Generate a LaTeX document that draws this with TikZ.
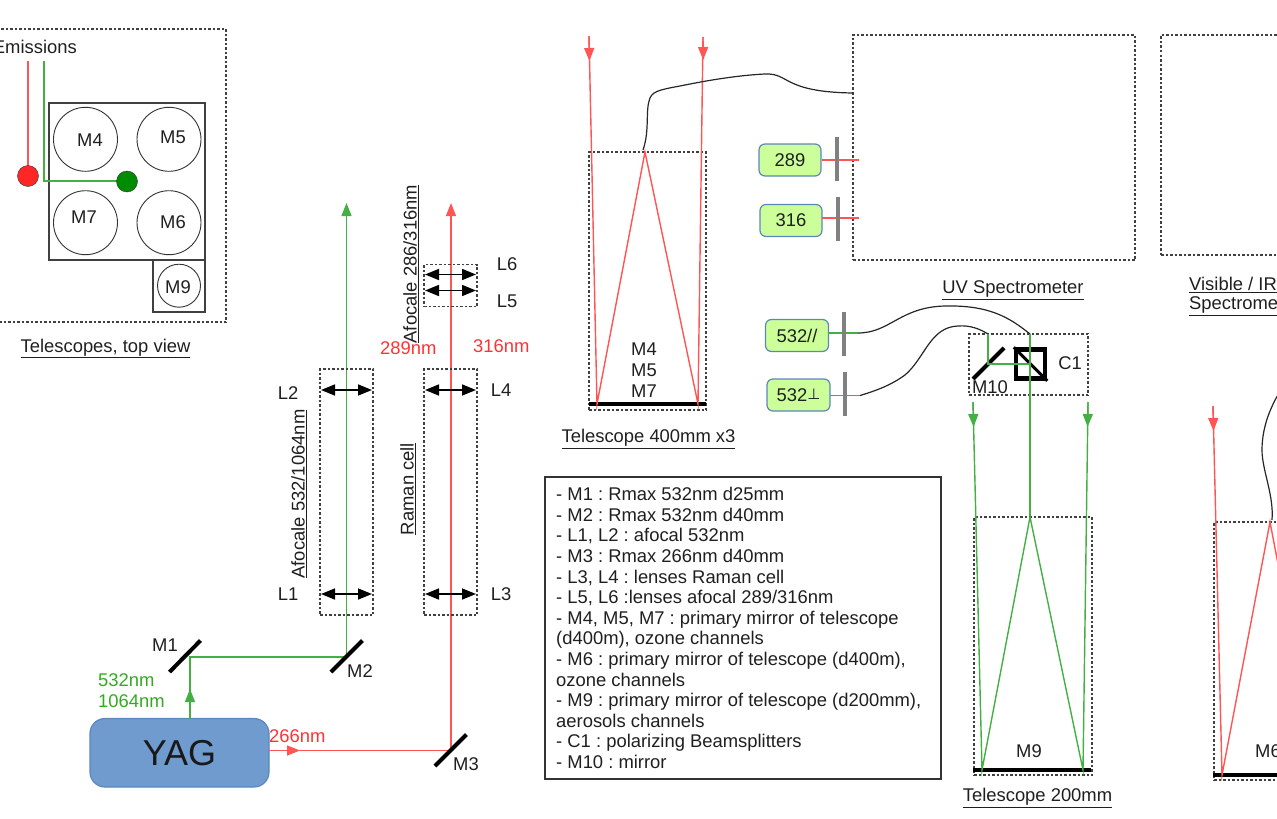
\documentclass[tikz,border=0pt]{standalone}
\usepackage{fontspec}
\setmainfont{Liberation Sans}
\newfontfamily\djv{DejaVu Sans}
\usetikzlibrary{arrows.meta}
\definecolor{rbeam}{HTML}{FF5555}
\definecolor{gbeam}{HTML}{44B044}
\definecolor{rtxt}{HTML}{FF3333}
\definecolor{gtxt}{HTML}{33AA22}
\definecolor{yagfill}{HTML}{6F9BCF}
\definecolor{yagline}{HTML}{5C87BC}
\definecolor{chfill}{HTML}{CCFF99}
\frenchspacing
\tikzset{
  lbl/.style={inner sep=0pt,font=\fontsize{18.4}{20}\selectfont,text=black!88},
  rlbl/.style={lbl,text=rtxt},
  glbl/.style={lbl,text=gtxt},
  dashbox/.style={draw=black!75,line width=1.3pt,dash pattern=on 2.5pt off 2pt},
  solidbox/.style={draw=black!75,line width=1.2pt},
  circ/.style={draw=black!80,line width=.9pt,circle,minimum size=#1,inner sep=0pt},
  redray/.style={draw=rbeam,line width=1.4pt},
  greenray/.style={draw=gbeam,line width=1.4pt},
  redtip/.style={redray,-{Triangle[length=13pt,width=10pt]}},
  greentip/.style={greenray,-{Triangle[length=13pt,width=10pt]}},
  mirror/.style={draw=black,line width=4pt},
  lens/.style={draw=black,line width=1.6pt,{Triangle[length=14pt,width=11pt]}-{Triangle[length=14pt,width=11pt]}},
  fibre/.style={draw=black!85,line width=1.2pt},
  bar/.style={draw=black!50,line width=4.5pt},
  chan/.style={draw=yagline,fill=chfill,line width=1.2pt,rounded corners=6pt,minimum width=#1,minimum height=32pt,inner sep=0pt,font=\fontsize{18.4}{20}\selectfont,text=black!88},
}
\begin{document}
\begin{tikzpicture}[x=1pt,y=-1pt]
\useasboundingbox (0,0) rectangle (1277,819);
\clip (0,0) rectangle (1277,819);

% ---------- top view
\node[dashbox,minimum width=236pt,minimum height=293pt,inner sep=0pt] (topview) at (108,175.5) {};
\node[solidbox,minimum width=156pt,minimum height=157pt,inner sep=0pt] (square) at (127,181.5) {};
\node[solidbox,minimum width=52pt,minimum height=52pt,inner sep=0pt] (m9box) at (179,286) {};
\node[circ=64pt] (c4) at (85.5,139.3) {};
\node[circ=64pt] (c5) at (169,139.3) {};
\node[circ=64pt] (c7) at (85.5,222.7) {};
\node[circ=64pt] (c6) at (169,222.7) {};
\node[circ=43pt] (c9) at (179,285.7) {};
\node[lbl] (t4) at (90,140) {M4};
\node[lbl] (t5) at (173,137) {M5};
\node[lbl] (t7) at (84,217) {M7};
\node[lbl] (t6) at (173,222) {M6};
\node[lbl] (t9) at (178,287) {M9};
\node[lbl,anchor=east] (emis) at (77,46.5) {Emissions};
\node[lbl] (tvcap) at (105.5,348.5) {\underline{Telescopes, top view}};
\coordinate (rs) at (28,61);
\coordinate (gs) at (44,61);
\coordinate (gk) at (44,181);
\coordinate (gd) at (127,181);
\draw[redray] (rs) -- (28,176);
\draw[greenray] (gs) -- (gk) -- (gd);
\node[circle,draw=black!80,fill=red!85!white,minimum size=21pt,inner sep=0pt] (rdot) at (28,176) {};
\node[circle,draw=black!80,fill=green!55!black,minimum size=21pt,inner sep=0pt] (gdot) at (127,181.5) {};

% ---------- YAG and steering
\node[draw=yagline,fill=yagfill,line width=1.2pt,rounded corners=15pt,minimum width=179pt,minimum height=68.5pt,inner sep=0pt,font=\fontsize{36}{40}\selectfont,text=black!90] (yag) at (179.5,752.75) {YAG};
\coordinate (m1a) at (169.5,672); \coordinate (m1b) at (200.5,640.5);
\coordinate (m2a) at (331,672);   \coordinate (m2b) at (362.5,640.5);
\coordinate (m3a) at (435,766);   \coordinate (m3b) at (466.5,734.5);
\coordinate (ystartg) at (190,718.5);
\coordinate (g1) at (190,657);
\coordinate (g2) at (346.5,657);
\coordinate (gtop) at (346.5,203);
\coordinate (ystartr) at (269,750.5);
\coordinate (r1) at (451,750.5);
\coordinate (rtop) at (451,203);
\draw[greenray] (ystartg) -- (g1) -- (g2);
\draw[greentip] (g2) -- (gtop);
\draw[redray] (ystartr) -- (r1);
\draw[redtip] (r1) -- (rtop);
\draw[greentip] (ystartg) -- (190,689);
\draw[redtip] (ystartr) -- (300,750.5);
\draw[mirror] (m1a) -- (m1b);
\draw[mirror] (m2a) -- (m2b);
\draw[mirror] (m3a) -- (m3b);
\node[lbl] (lm1) at (165,645) {M1};
\node[lbl] (lm2) at (360,671) {M2};
\node[lbl] (lm3) at (466,764.5) {M3};
\node[glbl,anchor=west] (n532) at (98,680) {532nm};
\node[glbl,anchor=west] (n1064) at (98,701) {1064nm};
\node[rlbl,anchor=west] (n266) at (269,736) {266nm};
\node[rlbl,anchor=west] (n289) at (380,348) {289nm};
\node[rlbl,anchor=west] (n316) at (473,346) {316nm};

% ---------- lens boxes
\node[dashbox,minimum width=53pt,minimum height=246pt,inner sep=0pt] (afbox) at (346.5,492) {};
\node[dashbox,minimum width=53pt,minimum height=246pt,inner sep=0pt] (rabox) at (450.5,492) {};
\node[dashbox,minimum width=53pt,minimum height=42pt,inner sep=0pt] (l56box) at (450.5,285.5) {};
\draw[lens] (321,390) -- (372,390);
\draw[lens] (321,594) -- (372,594);
\draw[lens] (425,390) -- (476,390);
\draw[lens] (425,594) -- (476,594);
\draw[lens] (425,274.5) -- (476,274.5);
\draw[lens] (425,290.5) -- (476,290.5);
\node[lbl] (l1) at (288,594) {L1};
\node[lbl] (l2) at (288,393) {L2};
\node[lbl] (l3) at (501,594) {L3};
\node[lbl] (l4) at (501,390) {L4};
\node[lbl] (l5) at (507,301) {L5};
\node[lbl] (l6) at (507,264) {L6};
\node[lbl,rotate=90] (af1) at (299,494) {\underline{Afocale 532/1064nm}};
\node[lbl,rotate=90] (raman) at (408,489) {\underline{Raman cell}};
\node[lbl,rotate=90] (af2) at (411,264) {\underline{Afocale 286/316nm}};

% ---------- telescope 400
\node[dashbox,minimum width=117pt,minimum height=258pt,inner sep=0pt] (t400) at (647.5,281) {};
\draw[mirror] (589,404) -- (706,404);
\coordinate (a1) at (589,36); \coordinate (a2) at (597,404); \coordinate (a3) at (645,152);
\coordinate (a4) at (698,404); \coordinate (a5) at (703,37);
\draw[redray] (a1) -- (a2) -- (a3) -- (a4) -- (a5);
\draw[redtip] (a1) -- (589.4,61);
\draw[redtip] (a5) -- (703.2,60);
\node[lbl] (tm4) at (644,349) {M4};
\node[lbl] (tm5) at (644,370) {M5};
\node[lbl] (tm7) at (644,391) {M7};
\node[lbl] (t400c) at (648.5,439) {\underline{Telescope 400mm x3}};

% ---------- spectrometers
\node[dashbox,minimum width=282pt,minimum height=225pt,inner sep=0pt] (uv) at (994,147.5) {};
\node[dashbox,minimum width=130pt,minimum height=220pt,inner sep=0pt] (vis) at (1226,145) {};
\node[lbl] (uvc) at (1013,290) {\underline{UV Spectrometer}};
\node[lbl,anchor=west] (visc1) at (1189,285) {\underline{Visible / IR}};
\node[lbl,anchor=west] (visc2) at (1189,306) {\underline{Spectrometer}};
\draw[fibre] (643,150) .. controls (650,130) and (645,110) .. (650,98)
  .. controls (653,90) and (665,89) .. (685,85)
  .. controls (720,78) and (745,75) .. (765,74)
  .. controls (790,73) and (782,92) .. (853,93);

\node[chan=62pt] (c289) at (790,160) {289};
\node[chan=62pt] (c316) at (791,220.5) {316};
\node[chan=63pt] (c532p) at (797,335.5) {532//};
\node[chan=63pt] (c532s) at (798.5,395) {532{\djv\fontsize{15}{18}\selectfont\raisebox{2pt}{⊥}}};
\coordinate (e289) at (859,160);
\coordinate (e316) at (859,218);
\coordinate (e532p) at (858,333);
\coordinate (e532s) at (860,395.5);
\draw[draw=rbeam,line width=1.3pt] (c289.east) -- (e289);
\draw[draw=rbeam,line width=1.3pt] (822,218) -- (e316);
\draw[greenray] (828,333) -- (e532p);
\draw[greenray] (830,395.5) -- (e532s);
\draw[bar] (837,137) -- (837,181);
\draw[bar] (838,197) -- (838,241);
\draw[bar] (844,312) -- (844,356);
\draw[bar] (845,372) -- (845,416);

% ---------- C1 box
\node[dashbox,minimum width=119pt,minimum height=61pt,inner sep=0pt] (c1box) at (1028.5,364.5) {};
\coordinate (b1) at (988,334); \coordinate (b2) at (988,364); \coordinate (b3) at (1030,364);
\coordinate (b4) at (1030,334); \coordinate (b5) at (1030,517);
\draw[fibre] (e532p) .. controls (890,333) and (900,307) .. (945,306)
  .. controls (990,305) and (1010,318) .. (b4);
\draw[fibre] (e532s) .. controls (885,388) and (895,382) .. (905,375)
  .. controls (925,358) and (930,327) .. (958,326)
  .. controls (970,325) and (980,329) .. (b1);
\draw[mirror] (973,379) -- (1004,348);
\node[draw=black,line width=4.5pt,minimum width=29pt,minimum height=29pt,inner sep=0pt] (cube) at (1030.5,364) {};
\draw[draw=black,line width=3pt] (cube.north west) -- (cube.south east);
\draw[greenray] (b1) -- (b2) -- (b3);
\draw[greenray] (b4) -- (b5);
\node[lbl] (c1t) at (1070,363) {C1};
\node[lbl] (m10) at (990,387) {M10};

% ---------- telescope 200
\node[dashbox,minimum width=118pt,minimum height=258pt,inner sep=0pt] (t200) at (1033,646) {};
\draw[mirror] (973,770) -- (1091,770);
\coordinate (d1) at (973,402); \coordinate (d2) at (982,770); \coordinate (d3) at (1030,517);
\coordinate (d4) at (1083,770); \coordinate (d5) at (1088,402);
\draw[greenray] (d1) -- (d2) -- (d3) -- (d4) -- (d5);
\draw[greentip] (d1) -- (973.6,427);
\draw[greentip] (d5) -- (1087.6,427);
\node[lbl] (tm9) at (1029,751) {M9};
\node[lbl] (t200c) at (1037.5,798) {\underline{Telescope 200mm}};

% ---------- telescope third (cropped)
\node[dashbox,minimum width=118pt,minimum height=258pt,inner sep=0pt] (t3) at (1273,651) {};
\draw[mirror] (1213,775) -- (1290,775);
\coordinate (f1) at (1213,406); \coordinate (f2) at (1222,775); \coordinate (f3) at (1270,522);
\coordinate (f4) at (1283,590);
\draw[redray] (f1) -- (f2) -- (f3) -- (f4);
\draw[redtip] (f1) -- (1213.5,431);
\node[lbl] (tm6) at (1268,751) {M6};
\draw[fibre] (1272,520) .. controls (1274,495) and (1262,470) .. (1262,450)
  .. controls (1262,425) and (1272,405) .. (1279,393);

% ---------- legend
\node[draw=black!80,line width=1.1pt,minimum width=396pt,minimum height=302pt,inner sep=0pt] (legendbox) at (743,628) {};
\node[lbl,anchor=north west,align=left,font=\fontsize{18.4}{20.62}\selectfont] (legend) at (556,487) {%
- M1 : Rmax 532nm d25mm\\
- M2 : Rmax 532nm d40mm\\
- L1, L2 : afocal 532nm\\
- M3 : Rmax 266nm d40mm\\
- L3, L4 : lenses Raman cell\\
- L5, L6 :lenses afocal 289/316nm\\
- M4, M5, M7 : primary mirror of telescope\\
(d400m), ozone channels\\
- M6 : primary mirror of telescope (d400m),\\
ozone channels\\
- M9 : primary mirror of telescope (d200mm),\\
aerosols channels\\
- C1 : polarizing Beamsplitters\\
- M10 : mirror};
\end{tikzpicture}
\end{document}
